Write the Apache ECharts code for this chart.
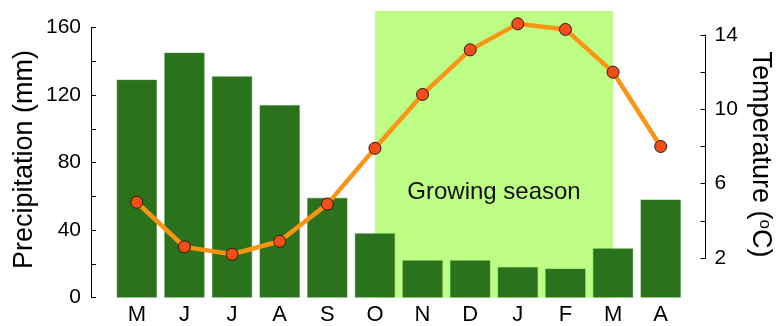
<!DOCTYPE html>
<html>
<head>
<meta charset="utf-8">
<script src="https://cdn.jsdelivr.net/npm/echarts@6/dist/echarts.min.js"></script>
<style>
  html, body { margin: 0; padding: 0; background: #fff; }
  #chart { width: 778px; height: 326px; }
</style>
</head>
<body>
<div id="chart"></div>
<script>
// Monthly climate data, May through April
const months = ['M', 'J', 'J', 'A', 'S', 'O', 'N', 'D', 'J', 'F', 'M', 'A'];
const precipitation = [129, 145, 131, 114, 59, 38, 22, 22, 18, 17, 29, 58];
const temperature = [5.0, 2.6, 2.2, 2.9, 4.9, 7.9, 10.8, 13.2, 14.6, 14.3, 12.0, 8.0];
// Growing season runs from October to March (indices into months)
const seasonStart = 5;
const seasonEnd = 10;
const seasonLabel = 'Growing season';

const FONT = '"Liberation Sans", Arial, Helvetica, sans-serif';
const catAxis = months.map((m, i) => i + ':' + m);

const chart = echarts.init(document.getElementById('chart'), null, { renderer: 'canvas' });

const gridBase = { left: 113, right: 93.5, containLabel: false, outerBoundsMode: 'none' };

chart.setOption({
  animation: false,
  textStyle: { fontFamily: FONT, color: '#000' },
  grid: [
    Object.assign({ top: 27.5, bottom: 28.5 }, gridBase),  // precipitation
    Object.assign({ top: 35, height: 223 }, gridBase),     // temperature
    Object.assign({ top: 11, bottom: 28.5 }, gridBase)     // season band
  ],
  xAxis: [
    {
      type: 'category', gridIndex: 0, data: catAxis,
      axisLine: { show: false }, axisTick: { show: false },
      axisLabel: {
        formatter: v => v.split(':')[1],
        fontSize: 22, color: '#000', margin: 6, fontFamily: FONT
      }
    },
    { type: 'category', gridIndex: 1, data: catAxis, show: false },
    { type: 'category', gridIndex: 2, data: catAxis, show: false }
  ],
  yAxis: [
    {
      type: 'value', gridIndex: 0, min: 0, max: 160, interval: 40,
      offset: 22,
      name: 'Precipitation (mm)', nameLocation: 'middle', nameGap: 53,
      nameMoveOverlap: false,
      nameTextStyle: { fontSize: 27, color: '#000', fontFamily: FONT, padding: [0, 0, 0, 6] },
      axisLine: { show: true, lineStyle: { color: '#000', width: 1 } },
      axisTick: { show: true, inside: true, length: 5, lineStyle: { color: '#000' } },
      minorTick: { show: true, splitNumber: 2, length: 5, lineStyle: { color: '#000' } },
      splitLine: { show: false },
      axisLabel: { fontSize: 21, color: '#000', margin: 10, fontFamily: FONT }
    },
    {
      type: 'value', gridIndex: 1, position: 'right', min: 2, max: 14, interval: 4,
      offset: 21,
      name: 'Temperature ({s|o}C)', nameLocation: 'middle', nameGap: 41, nameRotate: -90,
      nameMoveOverlap: false,
      nameTextStyle: {
        fontSize: 27, color: '#000', fontFamily: FONT, padding: [0, 0, 0, 16],
        rich: { s: { fontSize: 17, verticalAlign: 'top', padding: [0, 0, 10, 0], fontFamily: FONT, color: '#000' } }
      },
      axisLine: { show: true, lineStyle: { color: '#000', width: 1 } },
      axisTick: { show: true, inside: true, length: 5, lineStyle: { color: '#000' } },
      minorTick: { show: true, splitNumber: 2, length: 5, lineStyle: { color: '#000' } },
      splitLine: { show: false },
      axisLabel: { fontSize: 21, color: '#000', margin: 9, fontFamily: FONT }
    },
    { type: 'value', gridIndex: 2, min: 0, max: 1, show: false }
  ],
  series: [
    {
      type: 'line', xAxisIndex: 2, yAxisIndex: 2, data: [], z: 0,
      silent: true,
      markArea: {
        silent: true,
        itemStyle: { color: '#bdfd86' },
        label: {
          show: true, position: 'inside', offset: [0, 38],
          formatter: seasonLabel, fontSize: 24, color: '#111', fontFamily: FONT
        },
        data: [[{ xAxis: catAxis[seasonStart] }, { xAxis: catAxis[seasonEnd] }]]
      }
    },
    {
      type: 'bar', xAxisIndex: 0, yAxisIndex: 0, data: precipitation, z: 2,
      barCategoryGap: '16%',
      itemStyle: { color: '#2a721b', borderColor: '#3f8a30', borderWidth: 0.5 }
    },
    {
      type: 'line', xAxisIndex: 1, yAxisIndex: 1, data: temperature, z: 3,
      clip: false,
      symbol: 'circle', symbolSize: 12,
      lineStyle: { color: '#fb9414', width: 4.5 },
      itemStyle: { color: '#f34d1a', borderColor: '#2a1a10', borderWidth: 1 }
    }
  ]
});
</script>
</body>
</html>
